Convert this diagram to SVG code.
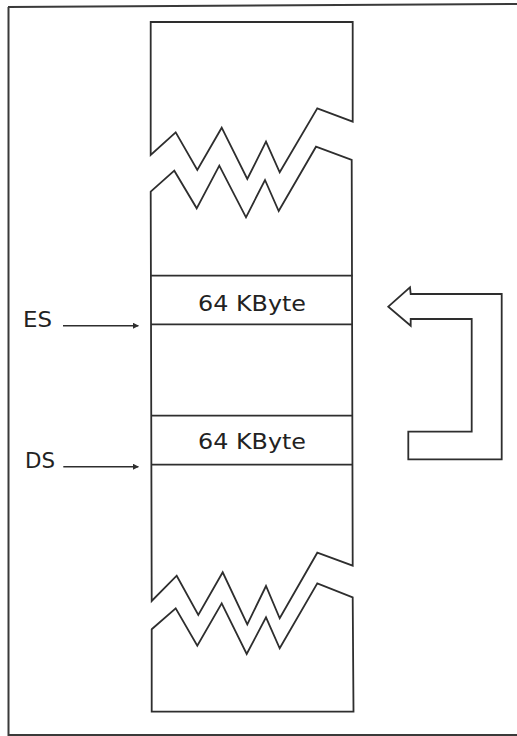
<svg xmlns="http://www.w3.org/2000/svg" width="517" height="736" viewBox="0 0 517 736">
<defs>
<style>
.ln{fill:none;stroke:#2e2e2e;stroke-width:1.8;stroke-linejoin:miter}
.fr{fill:none;stroke:#3a3a3a;stroke-width:2}
.tx{font-family:"DejaVu Sans","Liberation Sans",sans-serif;font-size:22px;fill:#222}
.ar{fill:none;stroke:#2e2e2e;stroke-width:1.4}
</style>
<marker id="ah" viewBox="0 0 10 10" refX="9" refY="5" markerWidth="6" markerHeight="6" markerUnits="userSpaceOnUse" orient="auto">
<path d="M0,0 L10,5 L0,10 Z" fill="#2e2e2e"/>
</marker>
</defs>
<rect x="0" y="0" width="517" height="736" fill="#ffffff"/>
<g id="frame">
<path class="fr" d="M8.5,7 L8.5,736 M8,7 L517,4 M8,735 L517,735"/>
</g>
<g id="memory">
<path class="ln" d="M150.7,22 L352.7,22 L352.7,121.7 L317.3,108.3 L279.7,172.3 L266,141.7 L247.3,179 L221.7,127.7 L197.3,170 L175.7,132.3 L150.7,155 Z"/>
<path class="ln" d="M150.7,191.7 L174.3,170.7 L196.7,208.3 L219.3,165.7 L246,217.3 L265,180 L278.7,211 L316,146.7 L351.7,160 L352.7,565.7 L317.3,552.7 L279.7,618.3 L266,586 L247.3,624.3 L222.7,572.3 L198.3,615 L176.7,575.7 L151.7,601 Z"/>
<path class="ln" d="M151.7,629.3 L175.7,608.3 L197.3,645.7 L221.7,603.3 L246.7,654 L266,617.3 L279.7,648.3 L317.3,583.3 L352.7,597.3 L353.5,711.7 L151.7,711.7 Z"/>
</g>
<g id="segment-es">
<path class="ln" d="M151,275.7 L352.5,275.7 M151,324.3 L352.5,324.3"/>
<text class="tx" x="252" y="311" text-anchor="middle" textLength="108" lengthAdjust="spacingAndGlyphs">64 KByte</text>
</g>
<g id="segment-ds">
<path class="ln" d="M151,415.7 L352.5,415.7 M151,464.7 L352.5,464.7"/>
<text class="tx" x="252" y="449" text-anchor="middle" textLength="108" lengthAdjust="spacingAndGlyphs">64 KByte</text>
</g>
<g id="label-es">
<text class="tx" x="23" y="327" textLength="29" lengthAdjust="spacingAndGlyphs">ES</text>
</g>
<g id="label-ds">
<text class="tx" x="25" y="468" textLength="30" lengthAdjust="spacingAndGlyphs">DS</text>
</g>
<g id="block-arrow">
<path class="ln" d="M388.3,306.7 L410,287.3 L410.7,294 L501.7,294 L501.7,459.3 L408.3,459.3 L408.3,431.7 L471.7,431.7 L471.7,319 L410.7,319 L410.7,325.7 Z"/>
</g>
<g id="connectors">
<line class="ar" x1="63" y1="325.7" x2="138.3" y2="325.7" marker-end="url(#ah)"/>
<line class="ar" x1="63.3" y1="466.7" x2="138.3" y2="466.7" marker-end="url(#ah)"/>
</g>
</svg>
